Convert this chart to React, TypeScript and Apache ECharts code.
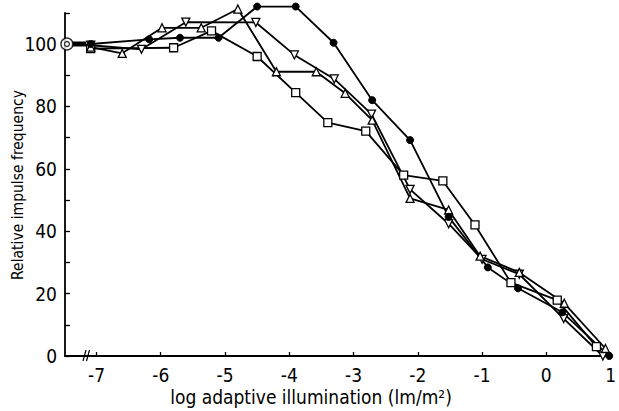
import React, { useEffect, useRef } from "react";
import * as echarts from "echarts";

// tick values
const xTickValues = [-7, -6, -5, -4, -3, -2, -1, 0, 1];
const yLabelValues = [0, 20, 40, 60, 80, 100];

// series data: [log illumination, relative impulse frequency]
const filledCircles: [number, number][] = [
  [-7.09, 100], [-6.18, 101.5], [-5.7, 102], [-5.1, 102], [-4.5, 112], [-3.9, 112],
  [-3.31, 100.4], [-2.71, 82], [-2.12, 69.2], [-1.52, 44.6], [-0.91, 28.4],
  [-0.44, 21.7], [0.25, 14], [0.98, 0],
];
const trianglesUp: [number, number][] = [
  [-7.09, 99], [-6.6, 97], [-5.98, 105.2], [-5.37, 105.2], [-4.8, 111.2], [-4.2, 91.1],
  [-3.58, 91.1], [-3.13, 84.2], [-2.71, 75.6], [-2.12, 50.5], [-1.52, 46.8],
  [-1.03, 32], [-0.42, 26.8], [0.28, 16.9], [0.92, 2.4],
];
const trianglesDown: [number, number][] = [
  [-7.09, 99.6], [-6.3, 98.3], [-5.61, 107], [-4.52, 106.9], [-3.92, 96.5],
  [-3.3, 88.8], [-2.72, 77.5], [-2.12, 53.4], [-1.52, 42.4], [-1.0, 31],
  [-0.42, 26.2], [0.27, 12], [0.88, 0],
];
const squares: [number, number][] = [
  [-7.09, 98.5], [-5.8, 98.8], [-5.21, 104.2], [-4.5, 96], [-3.9, 84.4], [-3.4, 74.8],
  [-2.81, 72.1], [-2.22, 58], [-1.61, 56.1], [-1.11, 42], [-0.55, 23.5],
  [0.17, 17.9], [0.78, 3],
];
const referencePoint: [number, number][] = [[-7.46, 100]];
const referenceBar: [number, number][] = [[-7.39, 100], [-7.16, 100]];

const FONT = "'DejaVu Sans Condensed', 'Liberation Sans Narrow', sans-serif";

export default function App() {
  const ref = useRef<HTMLDivElement>(null);
  useEffect(() => {
    if (!ref.current) return;
    const chart = echarts.init(ref.current, null, { renderer: "svg" });
    const lineBase = {
      type: "line",
      clip: false,
      symbolSize: 8,
      lineStyle: { color: "#000", width: 1.8 },
      itemStyle: { color: "#fff", borderColor: "#000", borderWidth: 1.3 },
      emphasis: { disabled: true },
    };
    chart.setOption({
      animation: false,
      backgroundColor: "#fff",
      grid: { left: 65, right: 2, top: 12.8, bottom: 55 },
      xAxis: {
        type: "value",
        min: -7.49,
        max: 1,
        splitLine: { show: false },
        axisLine: { onZero: false, lineStyle: { color: "#000", width: 1.8 } },
        axisTick: { inside: true, length: 4, lineStyle: { color: "#000", width: 1.3 }, customValues: xTickValues },
        axisLabel: {
          customValues: xTickValues,
          color: "#000",
          fontFamily: FONT,
          fontSize: 19,
          margin: 9,
          formatter: (v: number) => (v < 0 ? "-" + Math.abs(v) : String(v)),
        },
      },
      yAxis: {
        type: "value",
        min: 0,
        max: 110,
        interval: 10,
        splitLine: { show: false },
        axisLine: { onZero: false, lineStyle: { color: "#000", width: 1.8 } },
        axisTick: { inside: true, length: 5, lineStyle: { color: "#000", width: 1.3 } },
        axisLabel: {
          color: "#000",
          fontFamily: FONT,
          fontSize: 19,
          margin: 8,
          formatter: (v: number) => (yLabelValues.includes(v) ? String(v) : ""),
        },
      },
      series: [
        { ...lineBase, name: "squares", data: squares, symbol: "rect" },
        { ...lineBase, name: "down", data: trianglesDown, symbol: "triangle", symbolRotate: 180 },
        { ...lineBase, name: "up", data: trianglesUp, symbol: "triangle" },
        {
          ...lineBase,
          name: "filled",
          data: filledCircles,
          symbol: "circle",
          symbolSize: 7,
          itemStyle: { color: "#000", borderColor: "#000", borderWidth: 1 },
        },
        {
          type: "line",
          clip: false,
          data: referenceBar,
          symbol: "none",
          lineStyle: { color: "#000", width: 5 },
        },
        {
          type: "scatter",
          clip: false,
          data: referencePoint,
          symbol: "circle",
          symbolSize: 12,
          itemStyle: { color: "#fff", borderColor: "#000", borderWidth: 1.4 },
          z: 5,
        },
        {
          type: "scatter",
          clip: false,
          data: referencePoint,
          symbol: "circle",
          symbolSize: 5,
          itemStyle: { color: "#fff", borderColor: "#000", borderWidth: 1.3 },
          z: 6,
        },
      ],
      graphic: [
        {
          type: "text",
          x: 311,
          y: 397,
          style: {
            text: "log adaptive illumination (lm/m\u00b2)",
            fontFamily: FONT,
            fontSize: 19,
            fill: "#000",
            textAlign: "center",
            textVerticalAlign: "middle",
          },
        },
        {
          type: "text",
          x: 18,
          y: 185,
          rotation: Math.PI / 2,
          style: {
            text: "Relative impulse frequency",
            fontFamily: FONT,
            fontSize: 15.5,
            fill: "#000",
            textAlign: "center",
            textVerticalAlign: "middle",
          },
        },
        { type: "line", shape: { x1: 83, y1: 361, x2: 86, y2: 350 }, style: { stroke: "#000", lineWidth: 1.2 } },
        { type: "line", shape: { x1: 86.5, y1: 361, x2: 89.5, y2: 350 }, style: { stroke: "#000", lineWidth: 1.2 } },
      ],
    });
    return () => chart.dispose();
  }, []);
  return (
    <div
      ref={ref}
      style={{ position: "absolute", left: 0, top: 0, width: 619, height: 411 }}
    />
  );
}
